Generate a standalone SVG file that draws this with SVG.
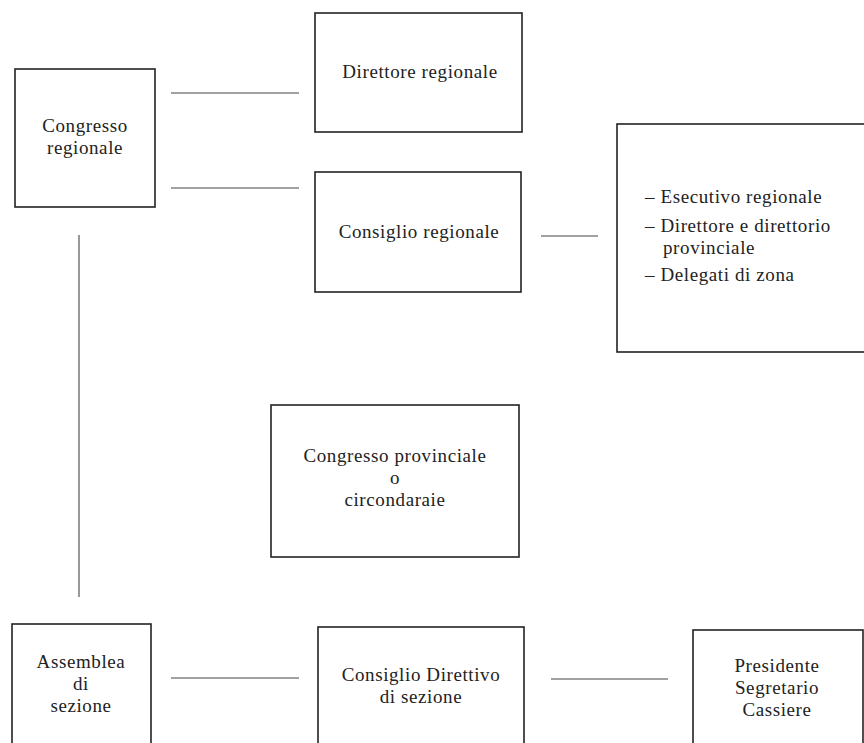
<svg xmlns="http://www.w3.org/2000/svg" width="864" height="743" viewBox="0 0 864 743">
<style>
.box{fill:none;stroke:#222;stroke-width:1.6}
.ln{stroke:#444;stroke-width:1.1;fill:none}
text{font-family:"Liberation Serif","Times New Roman",serif;font-size:19px;letter-spacing:0.6px;fill:#222}
.c{text-anchor:middle}
</style>
<rect width="864" height="743" fill="#fff"/>
<g id="connectors">
<line class="ln" x1="171" y1="93" x2="299" y2="93"/>
<line class="ln" x1="171" y1="188" x2="299" y2="188"/>
<line class="ln" x1="541" y1="236" x2="598" y2="236"/>
<line class="ln" x1="79" y1="235" x2="79" y2="597"/>
<line class="ln" x1="171" y1="678" x2="299" y2="678"/>
<line class="ln" x1="551" y1="679" x2="668" y2="679"/>
</g>
<g id="congresso-regionale">
<rect class="box" x="15" y="69" width="140" height="138"/>
<text class="c" x="85" y="132">Congresso</text>
<text class="c" x="85" y="154">regionale</text>
</g>
<g id="direttore-regionale">
<rect class="box" x="315" y="13" width="207" height="119"/>
<text class="c" x="420" y="78">Direttore regionale</text>
</g>
<g id="consiglio-regionale">
<rect class="box" x="315" y="172" width="206" height="120"/>
<text class="c" x="419" y="238">Consiglio regionale</text>
</g>
<g id="organi-regionali">
<rect class="box" x="617" y="124" width="260" height="228"/>
<text x="645" y="203">– Esecutivo regionale</text>
<text x="645" y="232">– Direttore e direttorio</text>
<text x="663" y="254">provinciale</text>
<text x="645" y="281">– Delegati di zona</text>
</g>
<g id="congresso-provinciale">
<rect class="box" x="271" y="405" width="248" height="152"/>
<text class="c" x="395" y="462">Congresso provinciale</text>
<text class="c" x="395" y="484">o</text>
<text class="c" x="395" y="506">circondaraie</text>
</g>
<g id="assemblea-sezione">
<rect class="box" x="12" y="624" width="139" height="130"/>
<text class="c" x="81" y="668">Assemblea</text>
<text class="c" x="81" y="690">di</text>
<text class="c" x="81" y="712">sezione</text>
</g>
<g id="consiglio-direttivo">
<rect class="box" x="318" y="627" width="206" height="130"/>
<text class="c" x="421" y="681">Consiglio Direttivo</text>
<text class="c" x="421" y="703">di sezione</text>
</g>
<g id="presidente">
<rect class="box" x="693" y="630" width="170" height="130"/>
<text class="c" x="777" y="672">Presidente</text>
<text class="c" x="777" y="694">Segretario</text>
<text class="c" x="777" y="716">Cassiere</text>
</g>
</svg>
